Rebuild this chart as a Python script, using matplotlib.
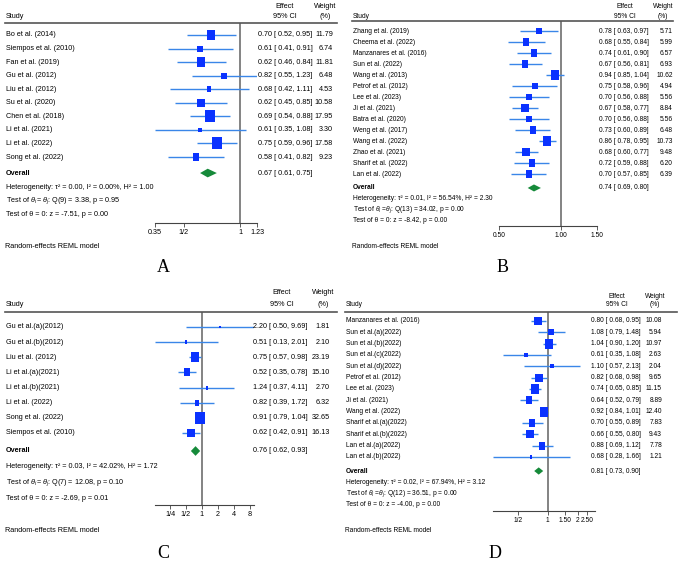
import numpy as np
import matplotlib
matplotlib.use("Agg")
from matplotlib import pyplot as plt
from matplotlib import transforms
from matplotlib.lines import Line2D

plt.rcParams['font.family'] = ['Liberation Sans', 'DejaVu Sans']
plt.rcParams['mathtext.fontset'] = 'custom'
plt.rcParams['mathtext.rm'] = 'Liberation Sans'
plt.rcParams['mathtext.it'] = 'Liberation Sans:italic'

# ---- panel A data
studies_a = ["Bo et al. (2014)", "Siempos et al. (2010)", "Fan et al. (2019)", "Gu et al. (2012)",
             "Liu et al. (2012)", "Su et al. (2020)", "Chen et al. (2018)", "Li et al. (2021)",
             "Li et al. (2022)", "Song et al. (2022)"]
eff_a = [0.70, 0.61, 0.62, 0.82, 0.68, 0.62, 0.69, 0.61, 0.75, 0.58]
lo_a = [0.52, 0.41, 0.46, 0.55, 0.42, 0.45, 0.54, 0.35, 0.59, 0.41]
hi_a = [0.95, 0.91, 0.84, 1.23, 1.11, 0.85, 0.88, 1.08, 0.96, 0.82]
w_a = [11.79, 6.74, 11.81, 6.48, 4.53, 10.58, 17.95, 3.30, 17.58, 9.23]
overall_a = [0.67, 0.61, 0.75]
stats_a = ["τ² = 0.00, I² = 0.00%, H² = 1.00", "Q(9) = 3.38, p = 0.95", "z = -7.51, p = 0.00"]
ticks_a = [0.35, 0.5, 1, 1.23]
ticklab_a = ["0.35", "1/2", "1", "1.23"]

# ---- panel B data
studies_b = ["Zhang et al. (2019)", "Cheema et al. (2022)", "Manzanares et al. (2016)", "Sun et al. (2022)",
             "Wang et al. (2013)", "Petrof et al. (2012)", "Lee et al. (2023)", "Ji et al. (2021)",
             "Batra et al. (2020)", "Weng et al. (2017)", "Wang et al. (2022)", "Zhao et al. (2021)",
             "Sharif et al. (2022)", "Lan et al. (2022)"]
eff_b = [0.78, 0.68, 0.74, 0.67, 0.94, 0.75, 0.70, 0.67, 0.70, 0.73, 0.86, 0.68, 0.72, 0.70]
lo_b = [0.63, 0.55, 0.61, 0.56, 0.85, 0.58, 0.56, 0.58, 0.56, 0.60, 0.78, 0.60, 0.59, 0.57]
hi_b = [0.97, 0.84, 0.90, 0.81, 1.04, 0.96, 0.88, 0.77, 0.88, 0.89, 0.95, 0.77, 0.88, 0.85]
w_b = [5.71, 5.99, 6.57, 6.93, 10.62, 4.94, 5.56, 8.84, 5.56, 6.48, 10.73, 9.48, 6.20, 6.39]
overall_b = [0.74, 0.69, 0.80]
stats_b = ["τ² = 0.01, I² = 56.54%, H² = 2.30", "Q(13) = 34.02, p = 0.00", "z = -8.42, p = 0.00"]
ticks_b = [0.5, 1, 1.5]
ticklab_b = ["0.50", "1.00", "1.50"]

# ---- panel C data
studies_c = ["Gu et al.(a)(2012)", "Gu et al.(b)(2012)", "Liu et al. (2012)", "Li et al.(a)(2021)",
             "Li et al.(b)(2021)", "Li et al. (2022)", "Song et al. (2022)", "Siempos et al. (2010)"]
eff_c = [2.20, 0.51, 0.75, 0.52, 1.24, 0.82, 0.91, 0.62]
lo_c = [0.50, 0.13, 0.57, 0.35, 0.37, 0.39, 0.79, 0.42]
hi_c = [9.69, 2.01, 0.98, 0.78, 4.11, 1.72, 1.04, 0.91]
w_c = [1.81, 2.10, 23.19, 15.10, 2.70, 6.32, 32.65, 16.13]
overall_c = [0.76, 0.62, 0.93]
stats_c = ["τ² = 0.03, I² = 42.02%, H² = 1.72", "Q(7) = 12.08, p = 0.10", "z = -2.69, p = 0.01"]
ticks_c = [0.25, 0.5, 1, 2, 4, 8]
ticklab_c = ["1/4", "1/2", "1", "2", "4", "8"]

# ---- panel D data
studies_d = ["Manzanares et al. (2016)", "Sun et al.(a)(2022)", "Sun et al.(b)(2022)", "Sun et al.(c)(2022)",
             "Sun et al.(d)(2022)", "Petrof et al. (2012)", "Lee et al. (2023)", "Ji et al. (2021)",
             "Wang et al. (2022)", "Sharif et al.(a)(2022)", "Sharif et al.(b)(2022)",
             "Lan et al.(a)(2022)", "Lan et al.(b)(2022)"]
eff_d = [0.80, 1.08, 1.04, 0.61, 1.10, 0.82, 0.74, 0.64, 0.92, 0.70, 0.66, 0.88, 0.68]
lo_d = [0.68, 0.79, 0.90, 0.35, 0.57, 0.68, 0.65, 0.52, 0.84, 0.55, 0.55, 0.69, 0.28]
hi_d = [0.95, 1.48, 1.20, 1.08, 2.13, 0.98, 0.85, 0.79, 1.01, 0.89, 0.80, 1.12, 1.66]
w_d = [10.08, 5.94, 10.97, 2.63, 2.04, 9.65, 11.15, 8.89, 12.40, 7.83, 9.43, 7.78, 1.21]
overall_d = [0.81, 0.73, 0.90]
stats_d = ["τ² = 0.02, I² = 67.94%, H² = 3.12", "Q(12) = 36.51, p = 0.00", "z = -4.00, p = 0.00"]
ticks_d = [0.5, 1, 1.5, 2, 2.5]
ticklab_d = ["1/2", "1", "1.50", "2", "2.50"]

W, H = 682, 564
fig = plt.figure(figsize=(W / 100, H / 100), dpi=100)

def fx(x):
    return x / W

def fy(y):
    return 1 - y / H

sq_col = '#0a32ff'
ci_col = '#3a86e8'
dia_col = '#168a3a'
# squares in the picture are a bit taller than wide
box = [(-1, -1.2), (1, -1.2), (1, 1.2), (-1, 1.2)]

def forest(studies, eff, lo, hi, w, overall, stats, ticks, ticklab, xlim, lay, letter):
    x0, x1 = lay['ax_x']
    head_y, axis_y = lay['ax_y']
    r0, dy = lay['row0'], lay['dy']
    fs = lay['fs']
    ax = fig.add_axes([fx(x0), fy(axis_y), (x1 - x0) / W, (axis_y - head_y) / H])
    ax.set_xscale('log')
    ax.set_xlim(*xlim)
    n = len(studies)
    ax.set_ylim((axis_y - r0) / dy, (head_y - r0) / dy)
    rows = np.arange(n)
    ax.axvline(1, color='#7a7a7a', lw=1.3, zorder=1)
    ax.hlines(rows, lo, hi, color=ci_col, lw=1.0, zorder=2)
    for i in range(n):
        side = lay['k'] * np.sqrt(w[i]) * 1.2
        ax.plot(eff[i], rows[i], marker=box, ms=side * 0.72, color=sq_col, mec=sq_col, mew=0, zorder=3)
    yo = lay['ov']
    e, l, h = overall
    ax.fill([l, e, h, e], [yo, yo - 0.32, yo, yo + 0.32], color=dia_col, lw=0, zorder=3)
    for s in ['top', 'right', 'left']:
        ax.spines[s].set_visible(False)
    ax.spines['bottom'].set_color('#444444')
    ax.spines['bottom'].set_linewidth(0.8)
    ax.set_yticks([])
    ax.set_xticks(ticks)
    ax.set_xticklabels(ticklab)
    ax.xaxis.set_minor_locator(matplotlib.ticker.NullLocator())
    ax.tick_params(axis='x', direction='out', length=3, width=0.6, labelsize=fs, pad=1.5, color='#444444')

    tr = transforms.blended_transform_factory(fig.transFigure, ax.transData)
    sx = lay['study_x']
    cx = lay['ci_x']
    wx = lay['w_x']
    for i in range(n):
        fig.text(fx(sx), rows[i], studies[i], transform=tr, fontsize=fs, va='center')
        fig.text(fx(cx), rows[i], f"{eff[i]:.2f} [ {lo[i]:.2f}, {hi[i]:.2f}]", transform=tr,
                 fontsize=fs, va='center')
        fig.text(fx(wx), rows[i], f"{w[i]:.2f}", transform=tr, fontsize=fs, va='center', ha='right')
    fig.text(fx(sx), yo, "Overall", transform=tr, fontsize=fs, va='center', fontweight='bold')
    fig.text(fx(cx), yo, f"{e:.2f} [ {l:.2f}, {h:.2f}]", transform=tr, fontsize=fs, va='center')

    hy = lay['stat_y']
    fig.text(fx(sx), fy(hy[0]), "Heterogeneity: " + stats[0], fontsize=fs, va='center')
    fig.text(fx(sx), fy(hy[1]), r"Test of $\theta_i = \theta_j$: " + stats[1], fontsize=fs, va='center')
    fig.text(fx(sx), fy(hy[2]), "Test of θ = 0: " + stats[2], fontsize=fs, va='center')

    # header
    ex, wcx = lay['head_x']
    ty1, ty2 = lay['head_ty']
    fig.text(fx(ex), fy(ty1), "Effect", fontsize=fs, ha='center', va='center')
    fig.text(fx(ex), fy(ty2), "95% CI", fontsize=fs, ha='center', va='center')
    fig.text(fx(wcx), fy(ty1), "Weight", fontsize=fs, ha='center', va='center')
    fig.text(fx(wcx), fy(ty2), "(%)", fontsize=fs, ha='center', va='center')
    fig.text(fx(sx), fy(ty2), "Study", fontsize=fs, va='center')
    lx1, lx2 = lay['line_x']
    fig.add_artist(Line2D([fx(lx1), fx(lx2)], [fy(head_y), fy(head_y)], color='#555555', lw=1.2))

    fig.text(fx(sx - 1), fy(lay['model_y']), "Random-effects REML model", fontsize=fs, va='center')
    lx, ly = lay['letter']
    fig.text(fx(lx), fy(ly), letter, fontsize=13, family='Liberation Serif', ha='center', va='center')
    return ax


lay_a = dict(ax_x=(155, 257), ax_y=(23, 223), row0=35, dy=13.56, ov=10.18, fs=5.2, k=2.2,
             study_x=6, ci_x=258, w_x=333, stat_y=(188, 201, 215), head_x=(285, 325), head_ty=(6, 17),
             line_x=(5, 337), model_y=246, letter=(163, 268))
lay_b = dict(ax_x=(499, 597), ax_y=(21, 226), row0=31, dy=11.0, ov=14.27, fs=4.8, k=2.4,
             study_x=353, ci_x=599, w_x=673, stat_y=(199, 210, 221), head_x=(625, 663), head_ty=(6, 16),
             line_x=(352, 673), model_y=247, letter=(503, 268))
lay_c = dict(ax_x=(155, 254), ax_y=(312, 505), row0=327, dy=15.14, ov=8.19, fs=5.2, k=1.8,
             study_x=6, ci_x=253, w_x=330, stat_y=(467, 483, 498), head_x=(282, 323), head_ty=(293, 305),
             line_x=(5, 337), model_y=531, letter=(163, 553))
lay_d = dict(ax_x=(493, 595), ax_y=(312, 511), row0=321, dy=11.33, ov=13.24, fs=4.8, k=2.3,
             study_x=346, ci_x=591, w_x=662, stat_y=(483, 494, 505), head_x=(617, 655), head_ty=(297, 305),
             line_x=(345, 677), model_y=531, letter=(495, 553))

forest(studies_a, eff_a, lo_a, hi_a, w_a, overall_a, stats_a, ticks_a, ticklab_a, (0.35, 1.23), lay_a, "A")
forest(studies_b, eff_b, lo_b, hi_b, w_b, overall_b, stats_b, ticks_b, ticklab_b, (0.5, 1.5), lay_b, "B")
forest(studies_c, eff_c, lo_c, hi_c, w_c, overall_c, stats_c, ticks_c, ticklab_c, (0.13, 9.69), lay_c, "C")
forest(studies_d, eff_d, lo_d, hi_d, w_d, overall_d, stats_d, ticks_d, ticklab_d, (0.28, 3.0), lay_d, "D")

plt.savefig('out.png', dpi=100)
